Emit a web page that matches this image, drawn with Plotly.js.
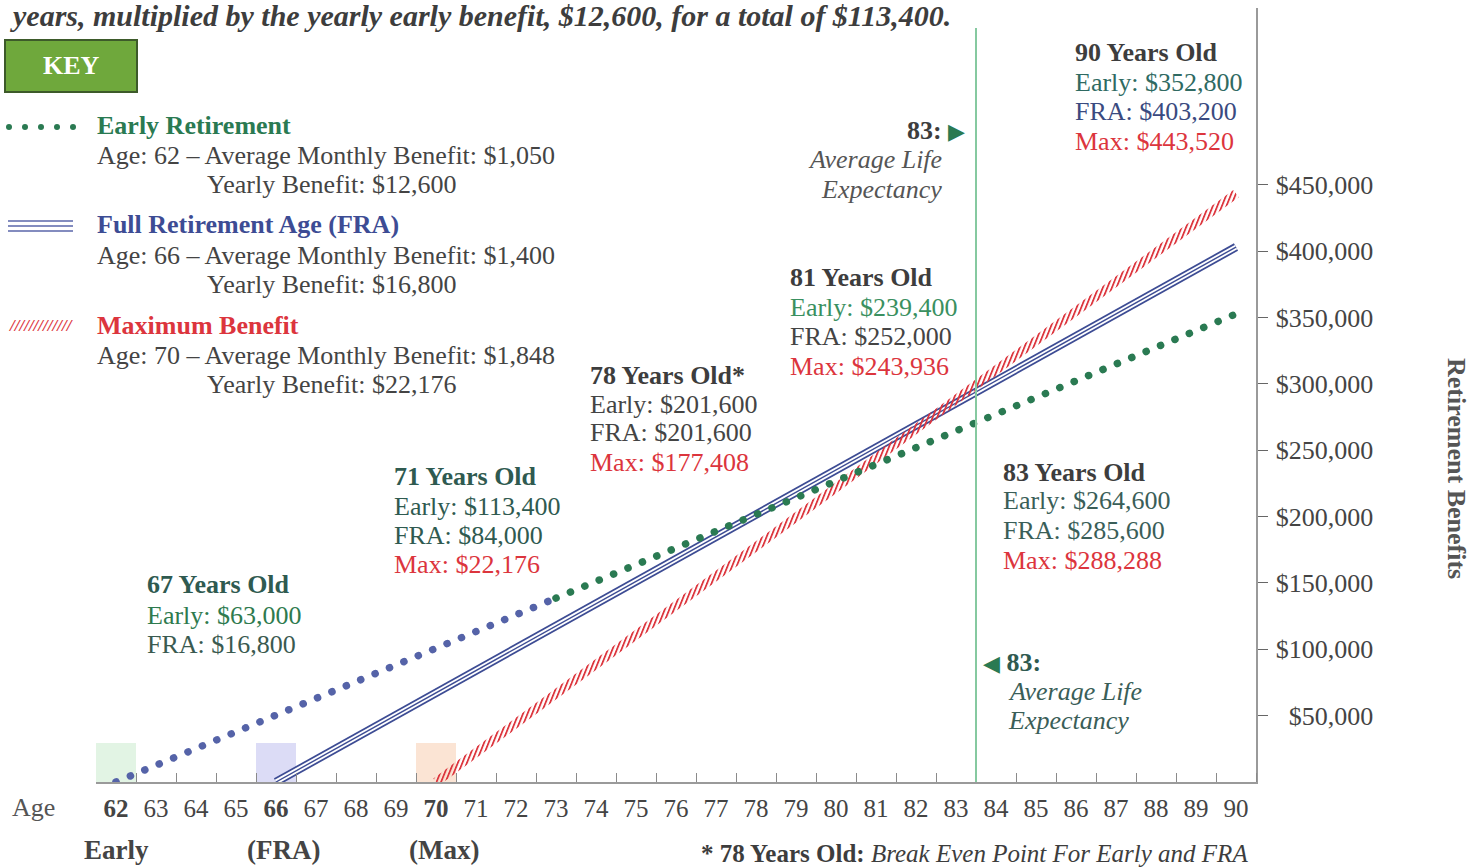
<!DOCTYPE html>
<html>
<head>
<meta charset="utf-8">
<script src="https://cdn.plot.ly/plotly-3.0.1.min.js"></script>
<style>html,body{margin:0;padding:0;background:#fff;}#chart{width:1481px;height:867px;}</style>
</head>
<body>
<div id="chart"></div>
<script>
// ---------------- DATA ----------------
const ages = [62,63,64,65,66,67,68,69,70,71,72,73,74,75,76,77,78,79,80,81,82,83,84,85,86,87,88,89,90];
const earlyAges = [62,63,64,65,66,67,68,69,70,71,72,73,74,75,76,77,78,79,80,81,82,83,84,85,86,87,88,89,90];
const earlyTotals = [0,12600,25200,37800,50400,63000,75600,88200,100800,113400,126000,138600,151200,163800,176400,189000,201600,214200,226800,239400,252000,264600,277200,289800,302400,315000,327600,340200,352800];
const fraAges = [66,67,68,69,70,71,72,73,74,75,76,77,78,79,80,81,82,83,84,85,86,87,88,89,90];
const fraTotals = [0,16800,33600,50400,67200,84000,100800,117600,134400,151200,168000,184800,201600,218400,235200,252000,268800,285600,302400,319200,336000,352800,369600,386400,403200];
const maxAges = [70,71,72,73,74,75,76,77,78,79,80,81,82,83,84,85,86,87,88,89,90];
const maxTotals = [0,22176,44352,66528,88704,110880,133056,155232,177408,199584,221760,243936,266112,288288,310464,332640,354816,376992,399168,421344,443520];
const startAges = [62,66,70];
const startLabels = ['Early','(FRA)','(Max)'];
const lifeExpectancy = 83;
const earlyColorSwitchAge = 73;
const yTickVals = [50000,100000,150000,200000,250000,300000,350000,400000,450000];
const yTickText = ['\u2007$50,000','$100,000','$150,000','$200,000','$250,000','$300,000','$350,000','$400,000','$450,000'];
const xTickText = ages.map(a => startAges.includes(a) ? '<b>'+a+'</b>' : String(a));

// ---------------- STYLE ----------------
const F = 'Liberation Serif, Times New Roman, serif';
const GREEN = '#2a7a52', BLUE = '#3d4c94', RED = '#dc353d', GRAY = '#444444', DARK = '#3d3d3d', TEAL = '#2f5a50';
const DOTBLUE = '#5563a8';
const L = 96, R = 1256, T = 8, B = 782;
const px = x => (x - L) / (R - L);
const py = y => (B - y) / (B - T);

function txt(x, y, text, color, o) {
  o = o || {};
  return {xref:'paper', yref:'paper', x:px(x), y:py(y), text:text, showarrow:false,
    xanchor:o.anchor || 'left', yanchor:'middle', textangle:o.angle || 0,
    font:{family:F, size:o.size || 26, color:color}};
}

const split = earlyAges.indexOf(earlyColorSwitchAge);

const traces = [
  {x:fraAges, y:fraTotals, mode:'lines', line:{color:BLUE, width:8.5}, hoverinfo:'skip'},
  {x:fraAges, y:fraTotals, mode:'lines', line:{color:'#ffffff', width:5}, hoverinfo:'skip'},
  {x:fraAges, y:fraTotals, mode:'lines', line:{color:BLUE, width:1.4}, hoverinfo:'skip'},
  {x:maxAges, y:maxTotals, mode:'lines', line:{color:RED, width:9}, hoverinfo:'skip'},
  {x:earlyAges.slice(0, split+1), y:earlyTotals.slice(0, split+1), mode:'lines', line:{color:DOTBLUE, width:7.5, dash:'0.1px,15.5px'}, hoverinfo:'skip'},
  {x:earlyAges.slice(split), y:earlyTotals.slice(split), mode:'lines', line:{color:GREEN, width:7.5, dash:'0.1px,15.5px'}, hoverinfo:'skip'}
];

const boxColors = ['#e2f4e4','#dcdcf6','#fbe4d4'];
const shapes = [];
startAges.forEach((a,i) => shapes.push({type:'rect', xref:'x', yref:'paper', x0:a-0.5, x1:a+0.5, y0:0, y1:39/774, fillcolor:boxColors[i], line:{width:0}, layer:'below'}));
shapes.push({type:'line', xref:'x', yref:'paper', x0:lifeExpectancy+0.5, x1:lifeExpectancy+0.5, y0:0, y1:py(28), line:{color:'#86c9a0', width:2}});
// KEY box
shapes.push({type:'rect', xref:'paper', yref:'paper', x0:px(5), x1:px(137), y0:py(92), y1:py(40), fillcolor:'#6fa83c', line:{color:'#3d5a2a', width:2}});
// key sample: dots
for (let k = 0; k < 5; k++) {
  const cx = 9 + k*16;
  shapes.push({type:'circle', xref:'paper', yref:'paper', x0:px(cx-3), x1:px(cx+3), y0:py(130), y1:py(124), fillcolor:GREEN, line:{width:0}});
}
// key sample: triple line
[221,226,231].forEach(yy => shapes.push({type:'line', xref:'paper', yref:'paper', x0:px(8), x1:px(73), y0:py(yy), y1:py(yy), line:{color:'#5a66aa', width:1.5}}));

const ann = [
  txt(8, 16, '<b><i>years, multiplied by the yearly early benefit, $12,600, for a total of $113,400.</i></b>', DARK, {size:30}),
  txt(71, 66, '<b>KEY</b>', '#ffffff', {anchor:'center', size:26}),
  txt(6, 325, '<b><i>/////////////</i></b>', RED, {size:17}),
  txt(95, 125, '<b>Early Retirement</b>', GREEN),
  txt(95, 155, 'Age: 62 – Average Monthly Benefit: $1,050', GRAY),
  txt(205, 184, 'Yearly Benefit: $12,600', GRAY),
  txt(95, 225, '<b>Full Retirement Age (FRA)</b>', BLUE),
  txt(95, 255, 'Age: 66 – Average Monthly Benefit: $1,400', GRAY),
  txt(205, 284, 'Yearly Benefit: $16,800', GRAY),
  txt(95, 326, '<b>Maximum Benefit</b>', RED),
  txt(95, 355, 'Age: 70 – Average Monthly Benefit: $1,848', GRAY),
  txt(205, 384, 'Yearly Benefit: $22,176', GRAY),

  txt(145, 585, '<b>67 Years Old</b>', TEAL),
  txt(145, 615, 'Early: $63,000', '#2e7a4e'),
  txt(145, 644, 'FRA: $16,800', '#3a5a50'),

  txt(392, 476, '<b>71 Years Old</b>', TEAL),
  txt(392, 506, 'Early: $113,400', TEAL),
  txt(392, 535, 'FRA: $84,000', TEAL),
  txt(392, 564, 'Max: $22,176', RED),

  txt(588, 375, '<b>78 Years Old*</b>', DARK),
  txt(588, 404, 'Early: $201,600', GRAY),
  txt(588, 433, 'FRA: $201,600', GRAY),
  txt(588, 462, 'Max: $177,408', RED),

  txt(788, 278, '<b>81 Years Old</b>', DARK),
  txt(788, 307, 'Early: $239,400', '#3a9060'),
  txt(788, 336, 'FRA: $252,000', GRAY),
  txt(788, 366, 'Max: $243,936', RED),

  txt(1073, 53, '<b>90 Years Old</b>', DARK),
  txt(1073, 82, 'Early: $352,800', '#2f6a62'),
  txt(1073, 112, 'FRA: $403,200', '#3a4a80'),
  txt(1073, 141, 'Max: $443,520', RED),

  txt(1001, 472, '<b>83 Years Old</b>', DARK),
  txt(1001, 501, 'Early: $264,600', '#3a5e58'),
  txt(1001, 530, 'FRA: $285,600', '#3a5e58'),
  txt(1001, 560, 'Max: $288,288', RED),

  txt(967, 130, '<b>83:</b> <span style="color:'+GREEN+';font-size:22px">▶</span>', DARK, {anchor:'right'}),
  txt(944, 160, '<i>Average Life</i>', '#555555', {anchor:'right'}),
  txt(944, 189, '<i>Expectancy</i>', '#555555', {anchor:'right'}),

  txt(981, 662, '<span style="color:'+GREEN+';font-size:22px">◀</span> <b>83:</b>', TEAL),
  txt(1006, 691, '<i>Average Life</i>', '#3a5e58'),
  txt(1006, 720, '<i>Expectancy</i>', '#3a5e58'),

  txt(10, 808, 'Age', '#555555', {size:26}),
  txt(1250, 853, '<b>* 78 Years Old:</b> <i>Break Even Point For Early and FRA</i>', DARK, {anchor:'right', size:25}),
  txt(1457, 468, '<b>Retirement Benefits</b>', '#555555', {anchor:'center', angle:90, size:26})
];
const startPx = [116, 283, 444];
startAges.forEach((a,i) => ann.push(txt(startPx[i], 850, '<b>'+startLabels[i]+'</b>', GRAY, {anchor:'center', size:27})));

const halfTicks = ages.map(a => a + 0.5);

const layout = {
  width:1481, height:867,
  margin:{l:L, r:1481-R, t:T, b:867-B},
  paper_bgcolor:'#ffffff', plot_bgcolor:'#ffffff',
  showlegend:false,
  font:{family:F, color:GRAY},
  xaxis:{range:[61.5, 90.5], tickmode:'array', tickvals:ages, ticktext:xTickText, ticks:'',
    showgrid:false, zeroline:false, showline:true, linecolor:'#9a9a9a', linewidth:1.5,
    tickfont:{family:F, size:25, color:GRAY}, ticklabelstandoff:3,
    minor:{tickmode:'array', tickvals:halfTicks, ticks:'inside', ticklen:9, tickcolor:'#8a8a8a', tickwidth:1, showgrid:false}},
  yaxis:{range:[0, 583400], side:'right', tickmode:'array', tickvals:yTickVals, ticktext:yTickText,
    ticks:'outside', ticklen:10, tickcolor:'#666', showgrid:false, zeroline:false, showline:true,
    linecolor:'#9a9a9a', linewidth:1.5, tickfont:{family:F, size:26, color:GRAY}, ticklabelstandoff:3},
  shapes:shapes,
  annotations:ann
};

Plotly.newPlot('chart', traces, layout, {staticPlot:true}).then(gd => {
  const svg = gd.querySelector('.main-svg');
  const NS = 'http://www.w3.org/2000/svg';
  let defs = svg.querySelector('defs');
  if (!defs) { defs = document.createElementNS(NS, 'defs'); svg.insertBefore(defs, svg.firstChild); }
  const pat = document.createElementNS(NS, 'pattern');
  pat.setAttribute('id', 'hatchRed');
  pat.setAttribute('patternUnits', 'userSpaceOnUse');
  pat.setAttribute('width', '4.2');
  pat.setAttribute('height', '12');
  pat.setAttribute('patternTransform', 'rotate(22)');
  const rc = document.createElementNS(NS, 'rect');
  rc.setAttribute('x', '0'); rc.setAttribute('y', '0');
  rc.setAttribute('width', '1.8'); rc.setAttribute('height', '12');
  rc.setAttribute('fill', RED);
  pat.appendChild(rc);
  defs.appendChild(pat);
  const tr = gd.querySelectorAll('.scatterlayer .trace');
  const maxLine = tr[3] && tr[3].querySelector('path.js-line');
  if (maxLine) maxLine.style.stroke = 'url(#hatchRed)';
  [4,5].forEach(i => { const p = tr[i] && tr[i].querySelector('path.js-line'); if (p) p.style.strokeLinecap = 'round'; });
});
</script>
</body>
</html>
